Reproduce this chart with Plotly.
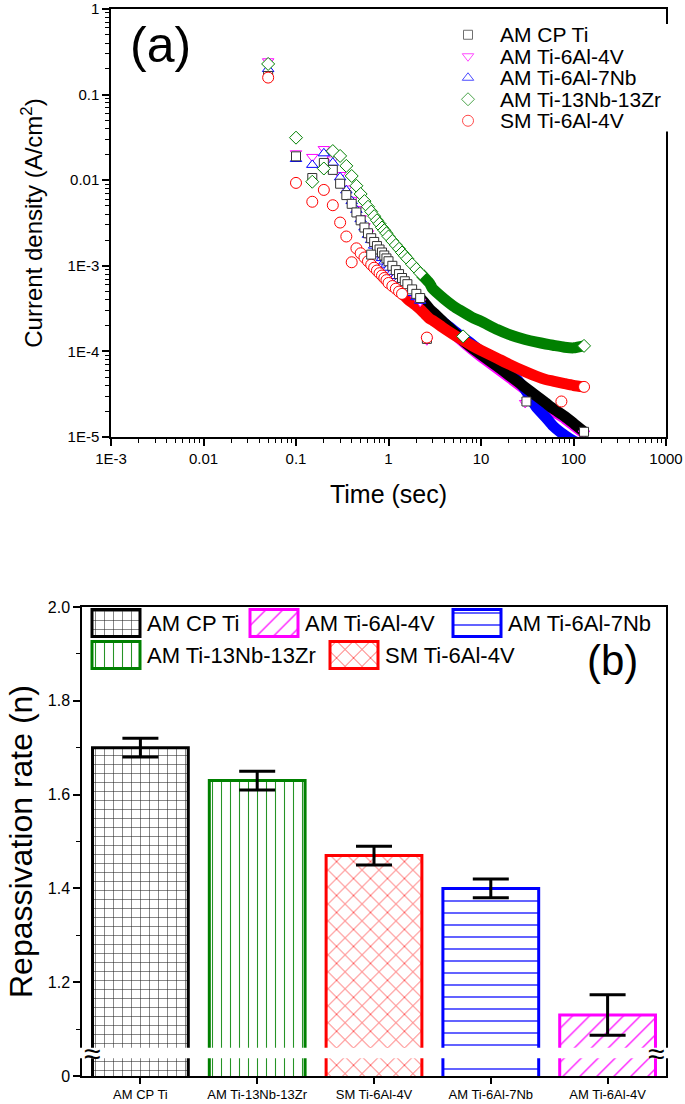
import plotly.graph_objects as go

# ---------------- (a) current decay after scratch (log-log) ----------------
time_s = [0.05, 0.1, 0.15, 0.2, 0.25, 0.3, 0.35, 0.4, 0.45, 0.5,
          0.55, 0.6, 0.65, 0.7, 0.75, 0.8, 0.85, 0.9, 0.95, 1.0,
          1.1, 1.2, 1.3, 1.4, 1.5, 1.6, 1.8, 2, 2.2, 2.5,
          2.8, 3, 4, 5, 6, 8, 10, 15, 20, 30,
          40, 50, 60, 80, 100, 130]

am_cp_ti = [0.165, 0.019, 0.0106, 0.0159, 0.0132, 0.0091, 0.0067, 0.0053, 0.0042, 0.0034,
            0.0028, 0.0024, 0.0021, 0.0019, 0.0017, 0.00155, 0.00143, 0.00132, 0.00122, 0.00113,
            0.00100, 0.00089, 0.00080, 0.00072, 0.00066, 0.00061, 0.00053, 0.00047, 0.00042, 0.00036,
            0.00031, 0.00029, 0.000215, 0.000172, 0.000142, 0.000110, 0.000092, 0.000067, 0.000053, 0.000038,
            0.000030, 0.000025, 0.0000215, 0.0000175, 0.0000145, 0.0000115]

am_ti64 = [0.245, 0.0206, 0.0187, 0.0231, 0.0175, 0.0115, 0.0080, 0.0059, 0.0046, 0.0036,
           0.0029, 0.0024, 0.0020, 0.00175, 0.00155, 0.00138, 0.00125, 0.00114, 0.00105, 0.00097,
           0.00087, 0.00078, 0.00070, 0.00063, 0.00058, 0.00054, 0.00047, 0.00042, 0.00038, 0.00033,
           0.00029, 0.00027, 0.000205, 0.000165, 0.000137, 0.000105, 0.000087, 0.000063, 0.000050, 0.000036,
           0.000028, 0.0000235, 0.000020, 0.0000165, 0.0000137, 0.0000110]

am_ti67nb = [0.199, 0.0177, 0.0151, 0.0206, 0.0160, 0.0108, 0.0076, 0.0057, 0.0045, 0.0035,
             0.0028, 0.0023, 0.0020, 0.00172, 0.00152, 0.00136, 0.00123, 0.00112, 0.00103, 0.00095,
             0.00085, 0.00076, 0.00069, 0.00063, 0.00058, 0.00054, 0.00048, 0.00043, 0.00039, 0.00034,
             0.00030, 0.00028, 0.000215, 0.000178, 0.000152, 0.000121, 0.000100, 0.000076, 0.000060, 0.000036,
             0.000022, 0.000017, 0.0000135, 0.0000105, 0.0000090, 0.0000080]

am_ti1313 = [0.228, 0.0314, 0.0096, 0.0137, 0.0219, 0.0192, 0.0147, 0.0112, 0.0086, 0.0069,
             0.0057, 0.0049, 0.0043, 0.0038, 0.0034, 0.0031, 0.0028, 0.0026, 0.0024, 0.0022,
             0.00195, 0.00175, 0.00158, 0.00143, 0.00131, 0.00121, 0.00104, 0.00092, 0.00082, 0.00071,
             0.00062, 0.00054, 0.00041, 0.00034, 0.00030, 0.00025, 0.000225, 0.000180, 0.000158, 0.000138,
             0.000128, 0.000122, 0.000118, 0.000112, 0.000110, 0.000116]

sm_ti64 = [0.158, 0.0093, 0.0056, 0.0077, 0.0051, 0.0032, 0.0022, 0.0011, 0.0016, 0.0014,
           0.00125, 0.00113, 0.00103, 0.00095, 0.00088, 0.00082, 0.00077, 0.00072, 0.00068, 0.00063,
           0.00058, 0.00054, 0.00050, 0.00047, 0.00044, 0.00041, 0.00037, 0.00034, 0.00031, 0.00027,
           0.00024, 0.00023, 0.000185, 0.000158, 0.000140, 0.000117, 0.000103, 0.000083, 0.000071, 0.000058,
           0.000051, 0.000047, 0.000045, 0.000042, 0.0000400, 0.0000385]

# points that sit off the main decay curves
cp_ti_off_t = [0.65, 2.6, 31]
cp_ti_off_j = [0.00135, 0.000140, 0.000026]
ti64_off_t = [2.6, 30]
ti64_off_j = [0.000135, 0.000025]
ti1313_off_t = [6.4]
ti1313_off_j = [0.000150]
sm_off_t = [2.6, 74]
sm_off_j = [0.000145, 0.000026]

# ---------------- (b) repassivation rate ----------------
alloys = ["AM CP Ti", "AM Ti-13Nb-13Zr", "SM Ti-6Al-4V", "AM Ti-6Al-7Nb", "AM Ti-6Al-4V"]
rate = [1.70, 1.63, 1.47, 1.40, 1.13]
rate_err = [0.02, 0.02, 0.02, 0.02, 0.043]
legend_order = ["AM CP Ti", "AM Ti-6Al-4V", "AM Ti-6Al-7Nb", "AM Ti-13Nb-13Zr", "SM Ti-6Al-4V"]

FONT = "Liberation Sans, Arial, sans-serif"
W, H = 685, 1104

# plot boxes in pixels (left, right, top, bottom)
BOX_A = (111, 666, 9, 437)
BOX_B = (82, 666, 607, 1076)


def xdom(box):
    return [box[0] / W, box[1] / W]


def ydom(top, bottom):
    return [(H - bottom) / H, (H - top) / H]


# drawing order: magenta, blue, black, green, red (red band sits on top)
curves = [
    dict(name="AM Ti-6Al-4V", j=am_ti64, off_t=ti64_off_t, off_j=ti64_off_j,
         color="#FF00FF", symbol="triangle-down", size=10, band_from=2.5),
    dict(name="AM Ti-6Al-7Nb", j=am_ti67nb, off_t=[], off_j=[],
         color="#0000FF", symbol="triangle-up", size=10, band_from=2.5),
    dict(name="AM CP Ti", j=am_cp_ti, off_t=cp_ti_off_t, off_j=cp_ti_off_j,
         color="#333333", symbol="square", size=9, band_from=2.5),
    dict(name="AM Ti-13Nb-13Zr", j=am_ti1313, off_t=ti1313_off_t, off_j=ti1313_off_j,
         color="#008000", symbol="diamond", size=10, band_from=2.5),
    dict(name="SM Ti-6Al-4V", j=sm_ti64, off_t=sm_off_t, off_j=sm_off_j,
         color="#FF0000", symbol="circle", size=11, band_from=1.5),
]
band_color = {"AM CP Ti": "#000000"}


def split_curve(t, j, band_from):
    """Sparse early samples are drawn as markers, the dense tail as a thick band."""
    first = next(i for i, v in enumerate(t) if v >= band_from)
    return (t[:first] + [t[-1]], j[:first] + [j[-1]], t[first - 1:], j[first - 1:])


fig = go.Figure()

marker_traces = []
for c in curves:
    mk_t, mk_j, ln_t, ln_j = split_curve(time_s, c["j"], c["band_from"])
    fig.add_trace(go.Scatter(
        x=ln_t, y=ln_j, mode="lines", hoverinfo="skip",
        line=dict(color=band_color.get(c["name"], c["color"]), width=11, shape="spline", smoothing=0.6),
        xaxis="x", yaxis="y",
    ))
    marker_traces.append(go.Scatter(
        x=mk_t, y=mk_j, mode="markers", name=c["name"],
        marker=dict(symbol=c["symbol"], size=c["size"], color="white",
                    line=dict(color=c["color"], width=1)),
        xaxis="x", yaxis="y",
    ))
for tr in marker_traces:
    fig.add_trace(tr)
for c in curves:
    if c["off_t"]:
        fig.add_trace(go.Scatter(
            x=c["off_t"], y=c["off_j"], mode="markers",
            marker=dict(symbol=c["symbol"], size=c["size"], color="white",
                        line=dict(color=c["color"], width=1)),
            xaxis="x", yaxis="y",
        ))

# legend of (a): marker column + labels in a small inset
style_by_name = {c["name"]: c for c in curves}
leg_a_rows = list(range(len(legend_order)))
fig.add_trace(go.Scatter(
    x=[10] * len(legend_order), y=leg_a_rows, mode="markers", hoverinfo="skip",
    marker=dict(symbol=[style_by_name[n]["symbol"] for n in legend_order],
                size=[style_by_name[n]["size"] for n in legend_order], color="white",
                line=dict(color=[style_by_name[n]["color"] for n in legend_order], width=1)),
    xaxis="x4", yaxis="y4",
))

# bars of (b)
bar_style = {
    "AM CP Ti": ("#000000", "+", 9),
    "AM Ti-13Nb-13Zr": ("#008000", "|", 9),
    "SM Ti-6Al-4V": ("#FF0000", "x", 12),
    "AM Ti-6Al-7Nb": ("#0000FF", "-", 12),
    "AM Ti-6Al-4V": ("#FF00FF", "/", 12),
}


def bar_marker(name):
    col, shp, psize = bar_style[name]
    return dict(color="white", line=dict(color=col, width=3),
                pattern=dict(shape=shp, fgcolor=col, bgcolor="white",
                             size=psize, solidity=0.12, fgopacity=0.85))


for name, val, err in zip(alloys, rate, rate_err):
    fig.add_trace(go.Bar(
        x=[name], y=[val], name=name, width=0.82, marker=bar_marker(name),
        error_y=dict(type="data", array=[err], color="black", thickness=3, width=18),
        xaxis="x2", yaxis="y2",
    ))

# legend of (b): patterned swatches in an inset (pixel units from the left axis)
leg_b_x0 = [10, 168, 371, 10, 248]
leg_b_row = [0, 0, 0, 1, 1]
for name, x0, row in zip(legend_order, leg_b_x0, leg_b_row):
    fig.add_trace(go.Bar(
        y=[row], x=[48], base=[x0], orientation="h", width=0.84, marker=bar_marker(name),
        hoverinfo="skip", xaxis="x3", yaxis="y3",
    ))

decades_x = [1e-3, 1e-2, 1e-1, 1, 10, 100, 1000]
decades_y = [1e-5, 1e-4, 1e-3, 1e-2, 1e-1, 1]
minor_x = [m * 10 ** e for e in range(-3, 3) for m in range(2, 10)]
minor_y = [m * 10 ** e for e in range(-5, 0) for m in range(2, 10)]

axis_common = dict(showline=True, linecolor="black", linewidth=1.5, mirror=True,
                   ticks="outside", ticklen=7, tickwidth=1.5, tickcolor="black",
                   showgrid=False, zeroline=False, automargin=False,
                   tickfont=dict(family=FONT, size=15, color="black"))
hidden = dict(visible=False, showgrid=False, zeroline=False, fixedrange=True)

a_top = BOX_A[2]
b_top = BOX_B[2]
annotations = [
    dict(text="(a)", xref="paper", yref="paper", x=160 / W, y=(H - 45) / H,
         xanchor="center", yanchor="middle", showarrow=False, font=dict(family=FONT, size=50)),
    dict(text="(b)", xref="paper", yref="paper", x=612 / W, y=(H - 661) / H,
         xanchor="center", yanchor="middle", showarrow=False, font=dict(family=FONT, size=42)),
    dict(text="≈", xref="x2 domain", yref="y2", x=0, y=1.049, showarrow=False,
         font=dict(family=FONT, size=30)),
    dict(text="≈", xref="x2 domain", yref="y2", x=1, y=1.049, showarrow=False,
         font=dict(family=FONT, size=30)),
]
for name, row in zip(legend_order, leg_a_rows):
    annotations.append(dict(text=name, xref="x4", yref="y4", x=40, y=row, xanchor="left",
                            yanchor="middle", showarrow=False, font=dict(family=FONT, size=21)))
for name, x0, row in zip(legend_order, leg_b_x0, leg_b_row):
    annotations.append(dict(text=name, xref="x3", yref="y3", x=x0 + 53, y=row, xanchor="left",
                            yanchor="middle", showarrow=False, font=dict(family=FONT, size=22)))

fig.update_layout(
    width=W, height=H,
    margin=dict(l=0, r=0, t=0, b=0),
    paper_bgcolor="white", plot_bgcolor="white",
    font=dict(family=FONT, color="black"),
    barmode="overlay", showlegend=False,
    xaxis=dict(axis_common, type="log", range=[-3, 3], domain=xdom(BOX_A), anchor="y",
               tickvals=decades_x, ticktext=["1E-3", "0.01", "0.1", "1", "10", "100", "1000"],
               minor=dict(tickvals=minor_x, ticks="outside", ticklen=4, tickwidth=1, tickcolor="black"),
               title=dict(text="Time (sec)", font=dict(family=FONT, size=25), standoff=20)),
    yaxis=dict(axis_common, type="log", range=[-5, 0], domain=ydom(BOX_A[2], BOX_A[3]),
               anchor="x", tickvals=decades_y, ticktext=["1E-5", "1E-4", "1E-3", "0.01", "0.1", "1"],
               minor=dict(tickvals=minor_y, ticks="outside", ticklen=4, tickwidth=1, tickcolor="black"),
               title=dict(text="Current density (A/cm<sup>2</sup>)", font=dict(family=FONT, size=24),
                          standoff=18)),
    xaxis2=dict(axis_common, type="category", categoryorder="array", categoryarray=alloys,
                range=[-0.5, 4.5], domain=xdom(BOX_B), anchor="y2", ticklen=6,
                tickfont=dict(family=FONT, size=13, color="black")),
    yaxis2=dict(axis_common, range=[1.0, 2.0], domain=ydom(BOX_B[2], BOX_B[3]),
                anchor="x2", tickvals=[1.0, 1.2, 1.4, 1.6, 1.8, 2.0],
                ticktext=["0", "1.2", "1.4", "1.6", "1.8", "2.0"],
                tickfont=dict(family=FONT, size=16, color="black"),
                minor=dict(tickvals=[1.1, 1.3, 1.5, 1.7, 1.9], ticks="outside", ticklen=4,
                           tickwidth=1, tickcolor="black"),
                title=dict(text="Repassivation rate (n)", font=dict(family=FONT, size=32), standoff=6)),
    # inset for legend (b): two rows of 32 px under the top frame
    xaxis3=dict(hidden, domain=xdom(BOX_B), range=[0, BOX_B[1] - BOX_B[0]], anchor="y3"),
    yaxis3=dict(hidden, domain=ydom(b_top, b_top + 64), range=[1.5, -0.5], anchor="x3"),
    # inset for legend (a): five rows of 21.5 px
    xaxis4=dict(hidden, domain=[458 / W, 1.0], range=[0, W - 458], anchor="y4"),
    yaxis4=dict(hidden, domain=ydom(a_top + 15, a_top + 15 + 5 * 21.5), range=[4.5, -0.5], anchor="x4"),
    shapes=[dict(type="rect", xref="x2 domain", x0=-0.03, x1=1.03, yref="y2", y0=1.038, y1=1.06,
                 fillcolor="white", line=dict(width=0), layer="above")],
    annotations=annotations,
)

# the page body's default 8 px margin would shift the whole figure
fig.write_html("out.html", config={"displayModeBar": False},
               post_script="document.body.style.margin = '0px';")
